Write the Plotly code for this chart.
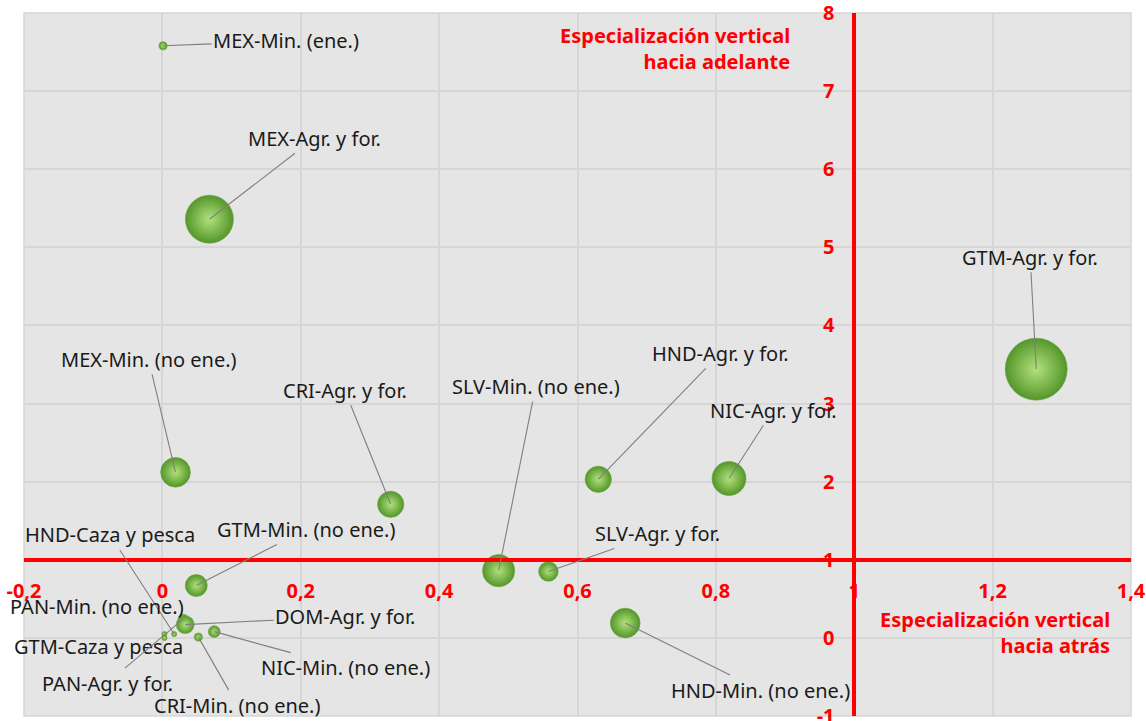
import plotly.graph_objects as go

# Sectores por país: especialización vertical hacia atrás (x) y hacia adelante (y)
etiquetas = [
    "MEX-Min. (ene.)", "MEX-Agr. y for.", "GTM-Agr. y for.", "MEX-Min. (no ene.)",
    "CRI-Agr. y for.", "HND-Agr. y for.", "NIC-Agr. y for.", "SLV-Min. (no ene.)",
    "SLV-Agr. y for.", "HND-Min. (no ene.)", "GTM-Min. (no ene.)", "HND-Caza y pesca",
    "PAN-Min. (no ene.)", "GTM-Caza y pesca", "PAN-Agr. y for.", "DOM-Agr. y for.",
    "NIC-Min. (no ene.)", "CRI-Min. (no ene.)",
]
esp_atras = [0.001, 0.068, 1.263, 0.019, 0.330, 0.630, 0.819, 0.486, 0.558, 0.669,
             0.049, 0.017, 0.003, 0.003, 0.030, 0.033, 0.075, 0.052]
esp_adelante = [7.58, 5.36, 3.44, 2.12, 1.71, 2.03, 2.04, 0.86, 0.85, 0.19,
                0.67, 0.05, 0.05, 0.00, 0.24, 0.17, 0.08, 0.01]
peso = [1.7, 60, 100, 23, 18, 18, 30, 27, 10, 23,
        12.6, 0.7, 0.7, 0.7, 2.6, 8.4, 3.7, 1.7]

x_ticks = [-0.2, 0, 0.2, 0.4, 0.6, 0.8, 1, 1.2, 1.4]
x_tick_text = ["-0,2", "0", "0,2", "0,4", "0,6", "0,8", "1", "1,2", "1,4"]
y_ticks = [-1, 0, 1, 2, 3, 4, 5, 6, 7, 8]
y_tick_text = ["-1", "0", "1", "2", "3", "4", "5", "6", "7", "8"]

X_RANGE = [-0.2, 1.4]
Y_RANGE = [-1, 8]
CRUCE = 1  # los ejes se cruzan en (1, 1)

# desplazamiento (px, hacia abajo positivo) de cada etiqueta respecto a su burbuja;
# con_linea=False -> etiqueta sin línea guía
etiqueta_offsets = [
    (123, -5, True), (105, -81, True), (-6, -112, True), (-27, -113, True),
    (-46, -114, True), (122, -126, True), (44, -68, True), (37, -184, True),
    (109, -38, True), (135, 67, True), (110, -56, True), (-64, -99, True),
    (-67, -27, False), (-66, 9, False), (-76, 64, True), (160, -8, True),
    (131, 36, True), (39, 68, True),
]

ROJO = "#ff0000"
FUENTE = "Noto Sans"

fig = go.Figure()
fig.add_trace(go.Scatter(
    x=esp_atras, y=esp_adelante, mode="markers",
    text=etiquetas, hoverinfo="text",
    marker=dict(
        size=peso, sizemode="area", sizeref=2 * 100 / 62 ** 2, sizemin=2.5,
        color="#54962a",
        gradient=dict(type="radial", color="#b2e27c"),
        line=dict(width=0.6, color="#6aa43e"),
        opacity=1,
    ),
    showlegend=False,
))

anotaciones = []
for nombre, xv, yv, (dx, dy, linea) in zip(etiquetas, esp_atras, esp_adelante, etiqueta_offsets):
    if linea:
        anotaciones.append(dict(
            x=xv, y=yv, xref="x", yref="y", text=nombre,
            showarrow=True, arrowhead=0, arrowwidth=1.1, arrowcolor="#7f7f7f",
            ax=dx, ay=dy, axref="pixel", ayref="pixel",
            font=dict(family=FUENTE, size=20, color="#1a1a1a"),
        ))
    else:
        anotaciones.append(dict(
            x=xv, y=yv, xref="x", yref="y", text=nombre, showarrow=False,
            xshift=dx, yshift=-dy,
            font=dict(family=FUENTE, size=20, color="#1a1a1a"),
        ))

anotaciones.append(dict(
    x=0.694, y=0.949, xref="paper", yref="paper", xanchor="right", yanchor="middle",
    align="right", showarrow=False,
    text="Especialización vertical<br>hacia adelante",
    font=dict(family=FUENTE, size=20, color=ROJO, weight="bold"),
))
anotaciones.append(dict(
    x=0.983, y=0.119, xref="paper", yref="paper", xanchor="right", yanchor="middle",
    align="right", showarrow=False,
    text="Especialización vertical<br>hacia atrás",
    font=dict(family=FUENTE, size=20, color=ROJO, weight="bold"),
))

fig.update_layout(
    width=1146, height=721,
    margin=dict(l=24, r=15, t=13, b=5),
    paper_bgcolor="white",
    plot_bgcolor="#e5e5e5",
    annotations=anotaciones,
    xaxis=dict(
        range=X_RANGE, tickvals=x_ticks, ticktext=x_tick_text,
        showgrid=True, gridcolor="#d6d6d6", gridwidth=2, zeroline=False,
        anchor="free", position=(CRUCE - Y_RANGE[0]) / (Y_RANGE[1] - Y_RANGE[0]),
        showline=True, linecolor=ROJO, linewidth=3.5,
        ticks="outside", ticklen=12, tickcolor="rgba(0,0,0,0)",
        ticklabeloverflow="allow", automargin=False,
        tickfont=dict(family=FUENTE, size=20, color=ROJO, weight="bold"),
    ),
    yaxis=dict(
        range=Y_RANGE, tickvals=y_ticks, ticktext=y_tick_text,
        showgrid=True, gridcolor="#d6d6d6", gridwidth=2, zeroline=False,
        anchor="free", position=(CRUCE - X_RANGE[0]) / (X_RANGE[1] - X_RANGE[0]),
        showline=True, linecolor=ROJO, linewidth=3.5,
        ticks="outside", ticklen=14, tickcolor="rgba(0,0,0,0)",
        ticklabeloverflow="allow", automargin=False,
        tickfont=dict(family=FUENTE, size=20, color=ROJO, weight="bold"),
    ),
    shapes=[dict(type="rect", xref="paper", yref="paper", x0=0, y0=0, x1=1, y1=1,
                 line=dict(color="#d6d6d6", width=1.5), layer="below")],
)

fig.write_html("out.html")
